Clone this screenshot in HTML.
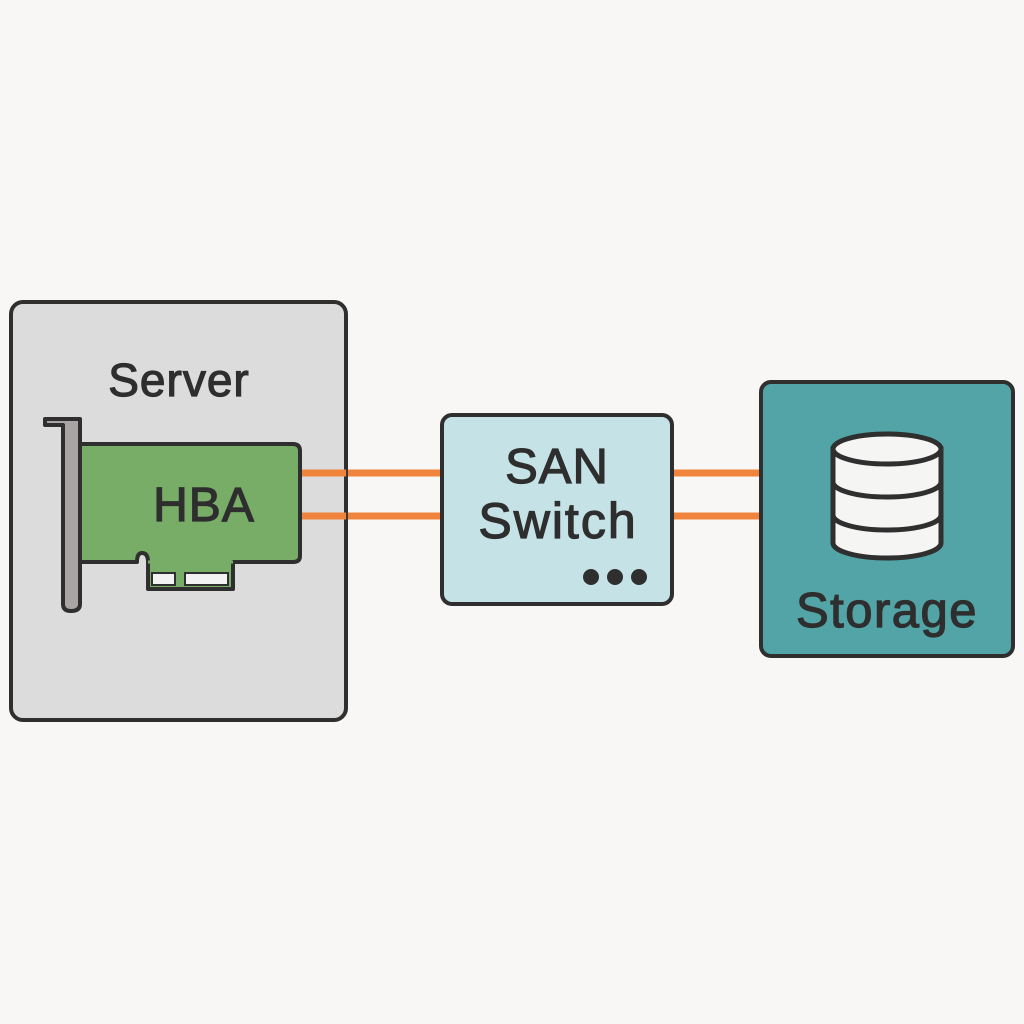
<!DOCTYPE html>
<html><head><meta charset="utf-8"><style>
html,body{margin:0;padding:0;background:#f8f7f5;}
svg{display:block}
text{font-family:"Liberation Sans",sans-serif;fill:#2e2e2e;stroke:#2e2e2e;stroke-width:1.2;}
</style></head><body>
<svg width="1024" height="1024" viewBox="0 0 1024 1024" xmlns="http://www.w3.org/2000/svg">
<rect width="1024" height="1024" fill="#f8f7f5"/>
<!-- Server -->
<rect x="11" y="302" width="335" height="418" rx="12" fill="#dcdcdc" stroke="#2f2f2f" stroke-width="4"/>
<text x="179" y="396" font-size="46" text-anchor="middle" letter-spacing="1">Server</text>
<!-- orange lines -->
<g stroke="#f0843c" stroke-width="7">
<line x1="300" y1="473" x2="442" y2="473"/>
<line x1="300" y1="516" x2="442" y2="516"/>
<line x1="672" y1="473" x2="760" y2="473"/>
<line x1="672" y1="516" x2="760" y2="516"/>
</g>
<g stroke="#2f2f2f" stroke-width="2" opacity="0.9">
<line x1="347" y1="469" x2="347" y2="520"/>
</g>
<!-- bracket -->
<path d="M45 419 L80 419 L80 604 Q80 611 71 611 Q63 611 63 604 L63 425 L45 425 Z" fill="#a9a5a4" stroke="#2f2f2f" stroke-width="4" stroke-linejoin="round"/>
<!-- card -->
<path d="M80 444 L293 444 Q300 444 300 451 L300 556 Q300 562 293 562 L233 562 L233 589 L148 589 L148 562 Q148 553 142 553 Q137 553 137 562 L80 562 Z" fill="#77ad67" stroke="#2f2f2f" stroke-width="4" stroke-linejoin="round"/>
<rect x="152" y="573" width="23" height="12" fill="#f2f2f2" stroke="#2f2f2f" stroke-width="2"/>
<rect x="185" y="573" width="43" height="12" fill="#f2f2f2" stroke="#2f2f2f" stroke-width="2"/>
<line x1="148" y1="562" x2="233" y2="562" stroke="#77ad67" stroke-width="3"/>
<text x="204" y="521" font-size="48" text-anchor="middle" letter-spacing="1">HBA</text>
<!-- switch -->
<rect x="442" y="415" width="230" height="189" rx="10" fill="#c5e2e6" stroke="#2f2f2f" stroke-width="4"/>
<text x="557" y="483" font-size="49" text-anchor="middle" letter-spacing="1">SAN</text>
<text x="558" y="538" font-size="50" text-anchor="middle" letter-spacing="2">Switch</text>
<circle cx="591" cy="577" r="8" fill="#2f2f2f"/>
<circle cx="615" cy="577" r="8" fill="#2f2f2f"/>
<circle cx="639" cy="577" r="8" fill="#2f2f2f"/>
<!-- storage -->
<rect x="761" y="382" width="252" height="274" rx="10" fill="#52a4a6" stroke="#2f2f2f" stroke-width="4"/>
<g stroke="#2f2f2f" stroke-width="5" fill="#f5f5f4">
<path d="M833 449 L833 543 A54 15 0 0 0 941 543 L941 449 Z"/>
<ellipse cx="887" cy="449" rx="54" ry="15"/>
<path d="M833 482 A54 15 0 0 0 941 482" fill="none"/>
<path d="M833 515 A54 15 0 0 0 941 515" fill="none"/>
</g>
<text x="887" y="627" font-size="49" text-anchor="middle" letter-spacing="1.5">Storage</text>
</svg>
</body></html>
